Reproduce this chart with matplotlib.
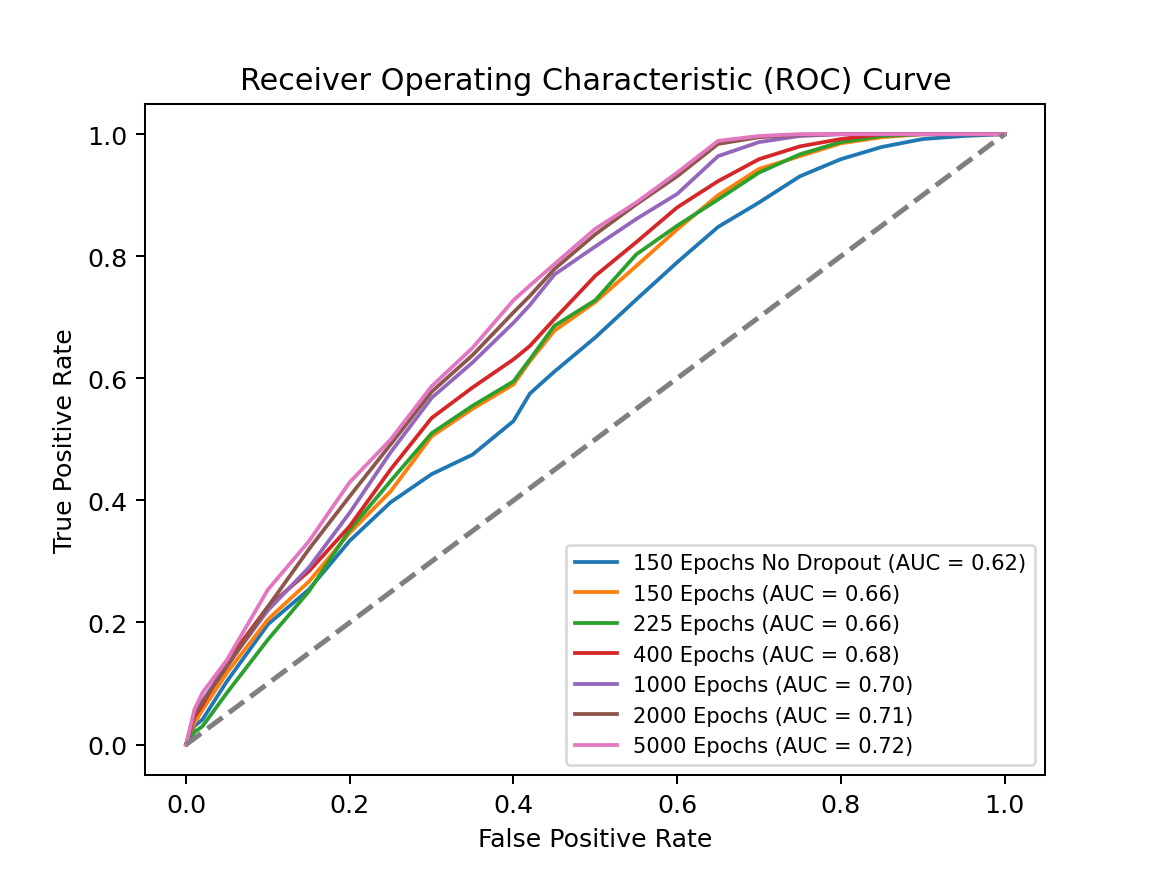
import numpy as np
import matplotlib.pyplot as plt

# false positive rate grid
fpr = [0.0, 0.01, 0.02, 0.05, 0.1, 0.15, 0.2, 0.25, 0.3, 0.35, 0.4, 0.42, 0.45,
       0.5, 0.55, 0.6, 0.65, 0.7, 0.75, 0.8, 0.85, 0.9, 0.95, 1.0]

tpr_no_dropout = [0.0, 0.03, 0.041, 0.104, 0.197, 0.254, 0.334, 0.397, 0.443, 0.475, 0.53, 0.575, 0.611,
                  0.667, 0.729, 0.79, 0.848, 0.888, 0.931, 0.959, 0.979, 0.992, 0.997, 1.0]
tpr_150 = [0.0, 0.035, 0.057, 0.118, 0.205, 0.267, 0.347, 0.415, 0.505, 0.55, 0.59, 0.628, 0.678,
           0.725, 0.784, 0.844, 0.9, 0.943, 0.964, 0.985, 0.995, 1.0, 1.0, 1.0]
tpr_225 = [0.0, 0.02, 0.03, 0.085, 0.172, 0.251, 0.352, 0.432, 0.51, 0.555, 0.595, 0.631, 0.686,
           0.728, 0.803, 0.85, 0.893, 0.937, 0.967, 0.987, 0.997, 1.0, 1.0, 1.0]
tpr_400 = [0.0, 0.045, 0.065, 0.136, 0.226, 0.284, 0.358, 0.451, 0.535, 0.585, 0.631, 0.653, 0.697,
           0.768, 0.823, 0.88, 0.923, 0.959, 0.98, 0.992, 1.0, 1.0, 1.0, 1.0]
tpr_1000 = [0.0, 0.05, 0.072, 0.13, 0.22, 0.29, 0.38, 0.479, 0.568, 0.626, 0.691, 0.72, 0.77,
            0.816, 0.861, 0.902, 0.964, 0.987, 0.997, 1.0, 1.0, 1.0, 1.0, 1.0]
tpr_2000 = [0.0, 0.05, 0.069, 0.128, 0.226, 0.32, 0.407, 0.492, 0.578, 0.638, 0.708, 0.735, 0.779,
            0.836, 0.885, 0.931, 0.984, 0.995, 0.999, 1.0, 1.0, 1.0, 1.0, 1.0]
tpr_5000 = [0.0, 0.057, 0.085, 0.139, 0.254, 0.333, 0.43, 0.5, 0.587, 0.65, 0.728, 0.752, 0.787,
            0.845, 0.888, 0.937, 0.989, 0.997, 1.0, 1.0, 1.0, 1.0, 1.0, 1.0]

names = ['150 Epochs No Dropout', '150 Epochs', '225 Epochs', '400 Epochs',
         '1000 Epochs', '2000 Epochs', '5000 Epochs']
aucs = [0.62, 0.66, 0.66, 0.68, 0.70, 0.71, 0.72]
curves = [tpr_no_dropout, tpr_150, tpr_225, tpr_400, tpr_1000, tpr_2000, tpr_5000]

plt.figure(figsize=(6.4, 4.8044), dpi=181.5)
for name, auc, tpr in zip(names, aucs, curves):
    plt.plot(fpr, tpr, label=f'{name} (AUC = {auc:.2f})')
plt.plot([0, 1], [0, 1], color='gray', linestyle='--', lw=2)

plt.xlabel('False Positive Rate')
plt.ylabel('True Positive Rate')
plt.title('Receiver Operating Characteristic (ROC) Curve')
plt.legend(loc='lower right', fontsize='small')
plt.savefig('out.png', dpi=181.5)
